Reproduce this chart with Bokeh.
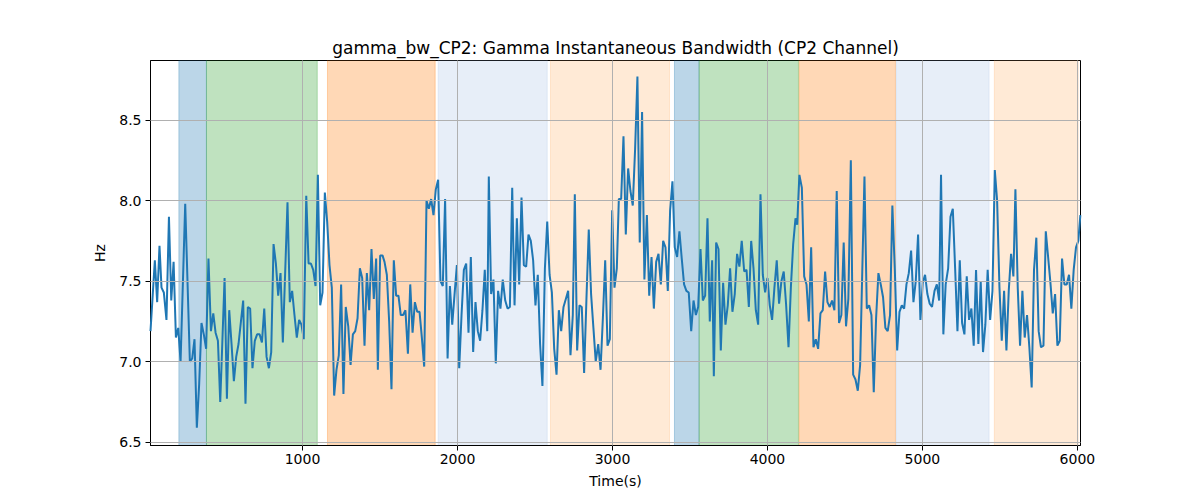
from bokeh.plotting import figure
from bokeh.models import Range1d, FixedTicker, CustomJSTickFormatter
from bokeh.embed import file_html
from bokeh.resources import INLINE

time_s = [19, 47, 62, 77, 90, 105, 122, 138, 153, 168, 183, 198, 213, 243, 273, 288, 303, 318, 333, 348, 363, 378, 393, 409, 424, 439, 454, 469, 497, 512, 527, 542, 557, 572, 587, 617, 632, 647, 662, 677, 692, 707, 723, 738, 753, 768, 783, 798, 813, 828, 843, 858, 873, 903, 918, 933, 948, 963, 978, 993, 1008, 1024, 1039, 1054, 1069, 1084, 1099, 1114, 1129, 1144, 1159, 1174, 1189, 1204, 1219, 1234, 1249, 1264, 1279, 1295, 1310, 1325, 1340, 1355, 1370, 1385, 1400, 1415, 1430, 1445, 1460, 1475, 1486, 1501, 1516,
          1529, 1544, 1559, 1574, 1589, 1604, 1619, 1634, 1649, 1664, 1680, 1695, 1710, 1725, 1740, 1755, 1770, 1785, 1800, 1815, 1830, 1845, 1860, 1875, 1890, 1905, 1920, 1936, 1951, 1966, 1981, 1996, 2011, 2026, 2041, 2056, 2071, 2086, 2101, 2116, 2131, 2146, 2161, 2176, 2192, 2202, 2217, 2232, 2247, 2262, 2277, 2292, 2308, 2323, 2338, 2353, 2368, 2383, 2398, 2413, 2428, 2443, 2458, 2473, 2488, 2503, 2518, 2533, 2548, 2564, 2579, 2594, 2609, 2624, 2639, 2654, 2669, 2684, 2699, 2714, 2729, 2744, 2757, 2772, 2787, 2802, 2817, 2832, 2847, 2862, 2877, 2892, 2908, 2923, 2938, 2953, 2968, 2983, 2998, 3013, 3028,
          3041, 3056, 3071, 3086, 3101, 3116, 3131, 3146, 3161, 3176, 3191, 3206, 3222, 3237, 3252, 3267, 3282, 3297, 3312, 3327, 3342, 3357, 3372, 3387, 3402, 3417, 3432, 3447, 3462, 3477, 3492, 3508, 3523, 3538, 3553, 3568, 3583, 3598, 3613, 3628, 3643, 3654, 3669, 3684, 3699, 3714, 3729, 3744, 3759, 3774, 3789, 3804, 3819, 3834, 3850, 3865, 3880, 3895, 3910, 3925, 3940, 3955, 3970, 3985, 4000, 4015, 4030, 4045, 4060, 4075, 4090, 4105, 4120, 4136, 4151, 4166, 4181, 4192, 4206, 4222, 4237, 4252, 4267, 4282, 4297, 4312, 4327, 4342, 4357, 4372, 4387, 4402, 4417, 4432, 4447, 4462, 4477, 4492, 4507, 4522, 4538,
          4553, 4568, 4583, 4598, 4613, 4626, 4641, 4656, 4671, 4686, 4701, 4716, 4731, 4746, 4761, 4776, 4791, 4806, 4822, 4837, 4852, 4867, 4882, 4897, 4912, 4927, 4942, 4957, 4972, 4987, 5002, 5017, 5032, 5047, 5062, 5078, 5093, 5108, 5120, 5135, 5150, 5166, 5181, 5196, 5211, 5226, 5241, 5256, 5271, 5286, 5301, 5316, 5331, 5346, 5361, 5376, 5391, 5406, 5421, 5437, 5452, 5467, 5482, 5497, 5512, 5527, 5542, 5557, 5572, 5587, 5600, 5615, 5630, 5645, 5660, 5675, 5690, 5705, 5720, 5735, 5750, 5765, 5781, 5796, 5811, 5826, 5841, 5856, 5871, 5886, 5901, 5916, 5931, 5946, 5961, 5976, 5991, 6006, 6019]

bandwidth_hz = [7.19, 7.63, 7.37, 7.72, 7.46, 7.43, 7.26, 7.90, 7.38, 7.62, 7.15, 7.21, 7.00, 7.98, 7.00, 7.02, 7.14, 6.59, 6.86, 7.24, 7.17, 7.08, 7.64, 7.19, 7.30, 7.18, 7.13, 6.75, 7.52, 6.77, 7.32, 7.11, 6.88, 7.03, 7.11, 7.38, 6.74, 7.34, 7.33, 6.96, 7.13, 7.17, 7.17, 7.12, 7.33, 7.03, 6.96, 7.06, 7.73, 7.61, 7.41, 7.55, 7.12, 7.99, 7.37, 7.44, 7.29, 7.15, 7.26, 7.23, 7.14, 8.03, 7.61, 7.61, 7.57, 7.47, 8.16, 7.35, 7.43, 8.05, 7.87, 7.60, 7.46, 6.79, 6.95, 7.04, 7.48, 6.80, 7.34, 7.22, 6.98, 7.17, 7.19, 7.27, 7.58, 7.52, 7.10, 7.55, 7.32, 7.70, 7.39, 7.64, 6.95, 7.66, 7.66,
                7.62, 7.54, 7.25, 6.83, 7.63, 7.41, 7.41, 7.29, 7.29, 7.32, 7.05, 7.48, 7.18, 7.37, 7.31, 7.31, 7.15, 6.97, 8.00, 7.95, 8.01, 7.91, 8.07, 8.13, 7.50, 7.47, 8.01, 7.02, 7.47, 7.23, 7.42, 7.60, 6.96, 7.29, 7.57, 7.61, 7.18, 7.65, 7.06, 7.37, 7.19, 7.13, 7.32, 7.57, 7.19, 8.15, 7.42, 7.51, 6.99, 7.44, 7.33, 7.51, 7.38, 7.33, 7.34, 8.08, 7.35, 7.89, 7.48, 8.02, 7.60, 7.59, 7.79, 7.75, 7.63, 7.35, 7.54, 7.11, 6.85, 7.58, 7.87, 7.54, 7.43, 7.08, 6.92, 7.32, 7.19, 7.34, 7.39, 7.44, 7.04, 7.29, 8.04, 7.07, 7.35, 7.34, 6.93, 7.39, 7.82, 7.42, 7.21, 7.00, 7.11, 6.95, 7.27, 7.63, 7.10, 7.14, 7.94, 7.46, 7.58,
                8.01, 8.01, 8.40, 7.79, 8.20, 8.06, 7.97, 8.32, 8.77, 7.74, 8.55, 7.51, 7.91, 7.41, 7.65, 7.33, 7.62, 7.67, 7.48, 7.75, 7.71, 7.44, 7.94, 8.12, 7.71, 7.65, 7.81, 7.64, 7.48, 7.44, 7.43, 7.19, 7.38, 7.29, 7.34, 7.70, 7.38, 7.41, 7.89, 7.25, 7.63, 6.91, 7.74, 7.70, 7.07, 7.49, 7.23, 7.35, 7.58, 7.31, 7.42, 7.67, 7.59, 7.75, 7.56, 7.57, 7.34, 7.75, 7.58, 7.32, 7.23, 8.04, 7.54, 7.43, 7.52, 7.35, 7.26, 7.46, 7.63, 7.36, 7.50, 7.56, 7.36, 7.09, 7.46, 7.73, 7.89, 7.85, 8.16, 8.08, 7.53, 7.48, 7.25, 7.71, 7.09, 7.14, 7.08, 7.30, 7.32, 7.56, 7.37, 7.34, 7.38, 7.32, 8.06, 7.24, 7.29, 7.74, 7.22, 7.39, 8.25,
                6.92, 6.89, 6.82, 6.98, 7.61, 8.15, 7.33, 7.35, 7.29, 6.81, 7.27, 7.55, 7.48, 7.40, 7.21, 7.19, 7.29, 7.97, 7.57, 7.07, 7.31, 7.35, 7.33, 7.48, 7.55, 7.69, 7.37, 7.50, 7.79, 7.26, 7.49, 7.54, 7.42, 7.36, 7.34, 7.44, 7.48, 7.38, 8.16, 7.17, 7.48, 7.58, 7.90, 7.95, 7.58, 7.19, 7.63, 7.24, 7.17, 7.53, 7.26, 7.33, 7.10, 7.57, 7.11, 7.50, 7.06, 7.23, 7.57, 7.26, 7.44, 8.19, 8.00, 7.46, 7.13, 7.44, 7.07, 7.44, 7.67, 7.53, 8.07, 7.46, 7.10, 7.44, 7.15, 7.29, 7.09, 6.84, 7.57, 7.77, 7.19, 7.09, 7.10, 7.81, 7.65, 7.49, 7.30, 7.42, 7.10, 7.13, 7.64, 7.48, 7.48, 7.54, 7.33, 7.57, 7.71, 7.75, 7.91]

span_start = [202, 380, 1161, 1875, 2600, 3400, 3559, 4204, 4830, 5464]
span_end = [380, 1095, 1856, 2579, 3368, 3559, 4200, 4826, 5430, 6005]
span_color = ["#1f77b4", "#2ca02c", "#ff7f0e", "#aec7e8", "#ffbb78",
              "#1f77b4", "#2ca02c", "#ff7f0e", "#aec7e8", "#ffbb78"]

x_ticks = [1000, 2000, 3000, 4000, 5000, 6000]
y_ticks = [6.5, 7.0, 7.5, 8.0, 8.5]

p = figure(frame_width=930, frame_height=385, output_backend="svg", toolbar_location=None,
           x_range=Range1d(19, 6020), y_range=Range1d(6.48, 8.87),
           title="gamma_bw_CP2: Gamma Instantaneous Bandwidth (CP2 Channel)",
           min_border_left=150, min_border_right=104, min_border_top=60, min_border_bottom=30)

p.quad(left=span_start, right=span_end, bottom=6.0, top=9.5, fill_color=span_color,
       fill_alpha=0.3, line_color=span_color, line_alpha=0.3, line_width=1)
series = p.line(time_s, bandwidth_hz, line_color="#1f77b4", line_width=2)
series.level = "annotation"

p.title.align = "center"
p.title.text_font = "DejaVu Sans"
p.title.text_font_size = "17px"
p.title.text_font_style = "normal"
p.title.text_color = "black"
p.title.offset = 0
p.title.standoff = 5

p.xaxis.ticker = FixedTicker(ticks=x_ticks)
p.yaxis.ticker = FixedTicker(ticks=y_ticks)
p.yaxis.formatter = CustomJSTickFormatter(code="return tick.toFixed(1);")
p.xaxis.axis_label = "Time(s)"
p.yaxis.axis_label = "Hz"

for ax in (p.xaxis, p.yaxis):
    ax.axis_label_text_font = "DejaVu Sans"
    ax.axis_label_text_font_size = "14px"
    ax.axis_label_text_font_style = "normal"
    ax.axis_label_text_color = "black"
    ax.major_label_text_font = "DejaVu Sans"
    ax.major_label_text_font_size = "14px"
    ax.major_label_text_color = "black"
    ax.axis_line_color = "black"
    ax.major_tick_line_color = "black"
    ax.major_tick_in = 0
    ax.major_tick_out = 5
    ax.minor_tick_line_color = None
    ax.major_label_standoff = 4
p.xaxis.major_label_standoff = 3
p.xaxis.axis_label_standoff = 6
p.yaxis.axis_label_standoff = 8

p.grid.grid_line_color = "#b0b0b0"
p.grid.grid_line_width = 1
p.xgrid.level = "annotation"
p.ygrid.level = "annotation"
p.outline_line_color = "black"
p.outline_line_width = 1
p.background_fill_color = "white"
p.border_fill_color = "white"

open("out.html", "w").write(file_html(p, INLINE))
